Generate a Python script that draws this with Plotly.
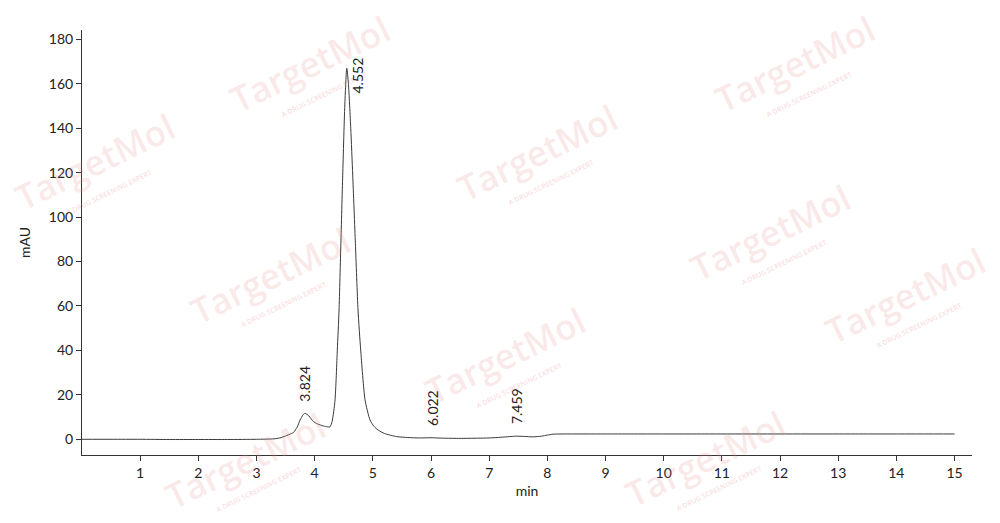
import plotly.graph_objects as go

# Chromatogram (time in min, signal in mAU)
time_min = [0.0, 0.5, 1.0, 1.5, 2.0, 2.5, 3.0, 3.3, 3.4, 3.5, 3.6, 3.633, 3.7, 3.749, 3.8, 3.834,
            3.9, 3.977, 4.05, 4.149, 4.22, 4.263, 4.3, 4.35, 4.389, 4.419, 4.45, 4.482, 4.52,
            4.552, 4.58, 4.62, 4.654, 4.70, 4.745, 4.791, 4.866, 4.951, 5.02, 5.089, 5.2, 5.41,
            5.6, 5.8, 6.0, 6.2, 6.5, 6.8, 7.0, 7.2, 7.35, 7.46, 7.6, 7.75, 7.9, 8.0, 8.1, 8.3,
            9.0, 10.0, 11.0, 12.0, 13.0, 14.0, 15.0]
signal_mau = [0.0, 0.0, 0.0, -0.1, -0.1, -0.1, 0.0, 0.2, 0.6, 1.5, 2.6, 3.0, 5.5, 8.7, 11.0, 11.7,
              10.5, 8.0, 6.9, 6.0, 5.6, 5.6, 8.0, 17.7, 40.2, 58.2, 88.0, 118.9, 152.0,
              167.0, 160.0, 140.0, 118.9, 88.0, 58.2, 40.2, 17.7, 8.7, 5.8, 4.2, 2.6, 1.2,
              0.8, 0.6, 0.7, 0.5, 0.4, 0.5, 0.6, 0.9, 1.2, 1.4, 1.3, 1.1, 1.4, 1.9, 2.3, 2.4,
              2.4, 2.4, 2.4, 2.4, 2.4, 2.4, 2.4]

peak_times = [3.824, 4.552, 6.022, 7.459]
peak_labels = ["3.824", "4.552", "6.022", "7.459"]
peak_heights = [11.7, 167.0, 0.7, 1.4]

x_ticks = list(range(1, 16))
y_ticks = [0, 20, 40, 60, 80, 100, 120, 140, 160, 180]

FONT = "Lato"
TXT = "#222222"

fig = go.Figure()
fig.add_trace(go.Scatter(
    x=time_min, y=signal_mau, mode="lines",
    line=dict(color="#3a3a3a", width=1, shape="spline", smoothing=0.6),
    hoverinfo="skip", showlegend=False,
))

# watermarks (pixel centres in the 1000x523 picture)
wm_centres = [(310, 64), (795, 64), (95, 162), (537, 152), (270, 275), (770, 232),
              (905, 295), (505, 355), (245, 460), (705, 458)]
L, R, T, B = 82, 28, 30, 68
W, H = 1000 - L - R, 523 - T - B
for px, py in wm_centres:
    xp = (px - L) / W
    yp = (523 - B - py) / H
    fig.add_annotation(xref="paper", yref="paper", x=xp, y=yp, text="TargetMol",
                       textangle=-26, showarrow=False, xanchor="center", yanchor="middle",
                       font=dict(family="Open Sans", size=35, weight=600,
                                 color="rgba(232,140,140,0.2)"))
    fig.add_annotation(xref="paper", yref="paper", x=(px + 14 - L) / W, y=(523 - B - py - 30) / H,
                       text="A DRUG SCREENING EXPERT", textangle=-26, showarrow=False,
                       xanchor="center", yanchor="middle",
                       font=dict(family="Open Sans", size=7, weight=600,
                                 color="rgba(232,140,140,0.3)"))

# peak labels
for t, lab, h in zip(peak_times, peak_labels, peak_heights):
    if lab == "4.552":
        fig.add_annotation(x=t, y=h, text=lab, textangle=-90, showarrow=False,
                           xanchor="left", yanchor="top", xshift=0, yshift=13,
                           font=dict(family=FONT, size=14, color=TXT))
    else:
        fig.add_annotation(x=t, y=h, text=lab, textangle=-90, showarrow=False,
                           xanchor="center", yanchor="bottom", yshift=10,
                           font=dict(family=FONT, size=14, color=TXT))

fig.update_layout(
    width=1000, height=523,
    margin=dict(l=L, r=R, t=T, b=B, autoexpand=False),
    paper_bgcolor="white", plot_bgcolor="white",
    font=dict(family=FONT, size=14, color=TXT),
    showlegend=False,
)
fig.update_xaxes(
    range=[0, 15.3], tickvals=x_ticks, ticktext=[str(v) for v in x_ticks],
    showline=True, linecolor="#333333", linewidth=1, ticks="outside", ticklen=5,
    tickcolor="#333333", showgrid=False, zeroline=False, automargin=False,
    title=dict(text="min", font=dict(family=FONT, size=14, color=TXT), standoff=6),
)
fig.update_yaxes(
    range=[-7.07, 184.2], tickvals=y_ticks, ticktext=[str(v) for v in y_ticks],
    showline=True, linecolor="#333333", linewidth=1, ticks="outside", ticklen=5,
    tickcolor="#333333", showgrid=False, zeroline=False, automargin=False,
    title=dict(text="mAU", font=dict(family=FONT, size=14, color=TXT), standoff=14),
)

fig.write_html("out.html", config={"displayModeBar": False},
               post_script="document.body.style.margin='0';")
